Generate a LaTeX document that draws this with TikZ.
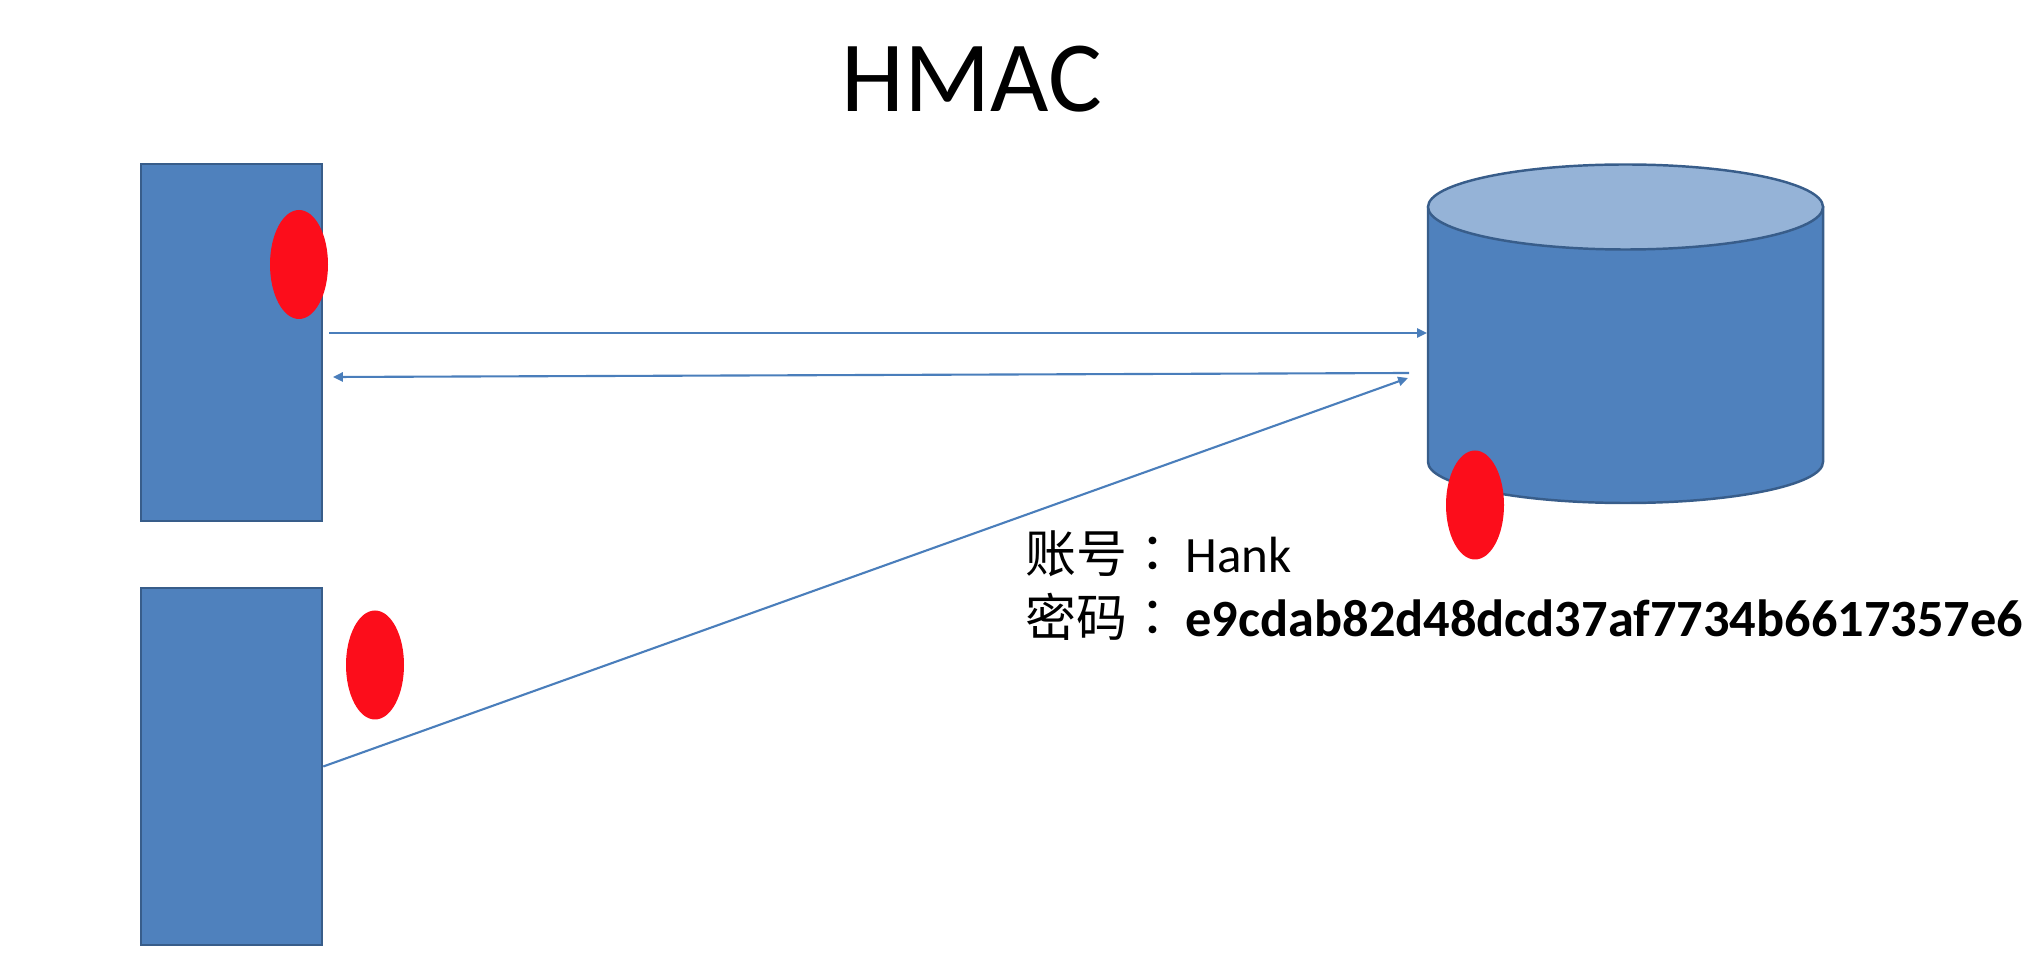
\documentclass[tikz,border=0pt]{standalone}
\usepackage{fontspec}
\setmainfont{Carlito}
\newfontfamily\cjk{Noto Sans CJK SC}
\newfontfamily\cjkpunct{Noto Sans CJK JP}
\usepackage{tikz}
\usetikzlibrary{arrows.meta}
\usetikzlibrary{shapes.geometric}
\usepackage{xcolor}
\definecolor{boxblue}{HTML}{4F81BD}
\definecolor{edgeblue}{HTML}{385D8A}
\definecolor{topblue}{HTML}{95B3D7}
\definecolor{linkblue}{HTML}{4A7EBB}
\definecolor{dotred}{RGB}{252,13,27}

\begin{document}
\begin{tikzpicture}[
        client/.style = {draw = edgeblue, fill = boxblue, line width = 0.7pt, minimum width = 1.81cm, minimum height = 3.57cm, inner sep = 0pt},
        dot/.style = {ellipse, fill = dotred, minimum width = 0.58cm, minimum height = 1.09cm, inner sep = 0pt},
        link/.style = {draw = linkblue, line width = 0.6pt, -{Triangle[length=2.8pt, width=2.6pt]}},
        info/.style = {anchor = base west, font = \fontsize{14.5}{17}\selectfont, inner sep = 0pt}
    ]
        \useasboundingbox (0,0) rectangle (20.38,-9.68);

        \node[anchor = base, font = \fontsize{28.7}{34}\selectfont, inner sep = 0pt] (title) at (9.72,-1.117) {HMAC};

        \node[client] (client1) at (2.315,-3.425) {};
        \node[client] (client2) at (2.315,-7.665) {};

        % database
        \begin{scope}[draw = edgeblue, line width = 0.7pt]
            \filldraw[fill = boxblue] (14.28,-2.07) -- (14.28,-4.62) arc[start angle = 180, end angle = 360, x radius = 1.975, y radius = 0.41] -- (18.23,-2.07) -- cycle;
            \filldraw[fill = topblue] (16.255,-2.07) ellipse [x radius = 1.975, y radius = 0.425];
        \end{scope}

        \coordinate (send) at (3.29,-3.33);
        \coordinate (recv) at (14.27,-3.33);
        \coordinate (reply) at (14.09,-3.73);
        \coordinate (back) at (3.33,-3.77);
        \coordinate (steal) at (14.08,-3.78);

        \draw[link] (send) -- (recv);
        \draw[link] (reply) -- (back);
        \draw[link] (client2.east) -- (steal);

        \node[dot] (key1) at (2.99,-2.645) {};
        \node[dot] (key2) at (3.75,-6.65) {};
        \node[dot] (key3) at (14.75,-5.05) {};

        \node[info] (account) at (10.25,-5.73) {{\cjk 账号}{\cjkpunct ：}\hspace{0.07cm}Hank};
        \node[info] (password) at (10.25,-6.37) {{\cjk 密码}{\cjkpunct ：}\hspace{0.07cm}{\fontsize{14.9}{17}\selectfont\bfseries e9cdab82d48dcd37af7734b6617357e6}};
    \end{tikzpicture}
\end{document}
